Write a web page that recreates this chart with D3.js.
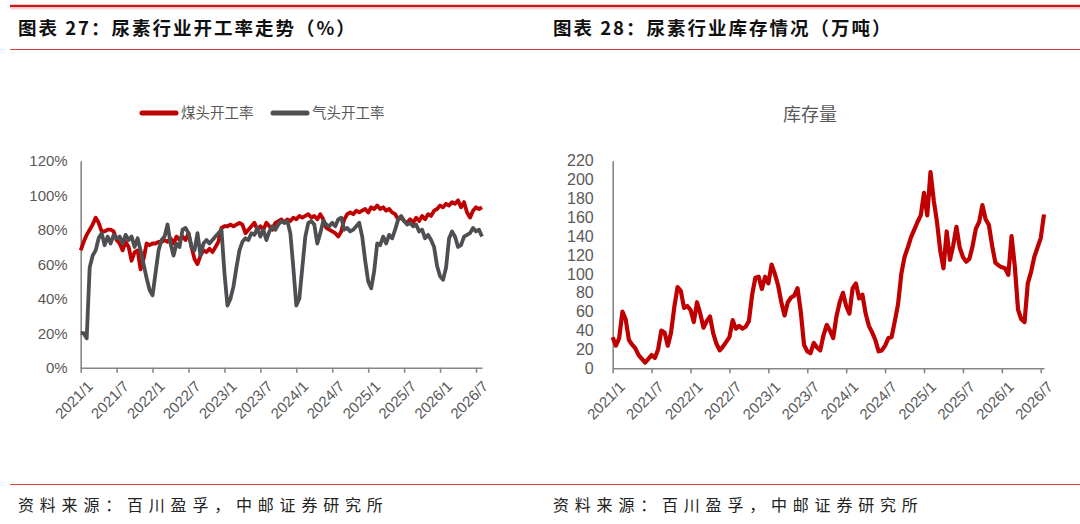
<!DOCTYPE html>
<html>
<head>
<meta charset="utf-8">
<script src="https://cdn.jsdelivr.net/npm/d3@7"></script>
<style>
  body { margin: 0; background: #fff; }
  .title { font-family: "Noto Sans CJK SC", sans-serif; font-weight: 700; font-size: 18.5px; fill: #111; letter-spacing: 2px; }
  .source { font-family: "Noto Sans CJK SC", sans-serif; font-size: 16px; fill: #222; letter-spacing: 5.8px; }
  .legend { font-family: "Noto Sans CJK SC", sans-serif; font-size: 14.5px; fill: #595959; }
  .tick text { font-family: "Liberation Sans Narrow", "Liberation Sans", sans-serif; fill: #595959; }
  .axis path, .axis line { stroke: #868686; stroke-width: 1.6px; }
</style>
</head>
<body>
<svg id="chart" width="1080" height="524"></svg>
<script>
// half-month steps from 2021/1 (index 0) on
var xTickLabels = ["2021/1","2021/7","2022/1","2022/7","2023/1","2023/7","2024/1","2024/7","2025/1","2025/7","2026/1","2026/7"];
var xTickIdx = [0,12,24,36,48,60,72,84,96,108,120,132];

// 煤头开工率 (%)
var coalRate = [68,73,77,80,83,87,84,79,79,80,80,79,74,72,68,73,70,62,67,68,
  57,63,72,71,72,72,73,73,74,73,75,72,76,74,76,74,78,70,63,60,
  65,68,67,69,67,70,73,81,82,82,83,82,83,84,83,78,80,82,84,80,
  82,80,84,82,80,84,85,86,84,86,85,87,86,88,87,88,89,87,88,86,
  89,86,81,80,79,78,76,79,86,89,90,89,91,90,91,92,90,93,92,94,
  92,93,91,92,90,89,86,87,85,84,86,84,87,85,88,86,89,88,91,92,
  94,93,95,94,96,95,97,93,96,90,87,91,93,92,93];

// 气头开工率 (%)
var gasRate = [20,20,17,58,65,68,75,78,71,76,72,77,75,76,72,77,74,76,70,75,
  68,60,52,45,42,55,68,74,76,83,72,65,72,70,80,81,78,70,68,78,
  65,72,74,72,74,76,78,80,55,36,40,47,58,68,73,75,74,78,77,81,
  76,80,74,79,82,80,83,85,84,85,78,58,36,40,58,76,84,85,83,72,
  78,85,83,82,84,82,86,87,80,81,79,80,82,84,76,62,50,46,56,72,
  71,76,72,77,75,80,86,88,85,83,84,82,83,79,80,75,77,74,70,59,
  53,51,58,75,79,76,70,71,76,77,78,81,79,80,76];

// 库存量 (万吨)
var inventory = [33,24,32,60,52,30,25,21,14,10,6,10,14,11,20,40,38,24,38,65,
  86,82,64,66,62,49,70,58,43,50,55,37,26,19,23,28,33,51,42,45,
  42,44,50,78,96,97,84,97,90,110,100,88,70,56,70,75,77,85,60,25,
  18,16,27,22,19,35,46,40,32,55,70,80,66,58,85,90,74,78,58,45,
  38,30,18,19,24,32,33,50,68,100,118,128,139,147,155,162,186,162,208,178,
  155,125,106,145,115,130,150,128,118,113,116,130,148,155,173,158,152,130,112,109,
  107,106,99,140,108,62,52,49,90,102,118,128,138,163];

var rateTicks = [0,0.2,0.4,0.6,0.8,1.0,1.2];
var stockTicks = [0,20,40,60,80,100,120,140,160,180,200,220];

var svg = d3.select("#chart");

// header / footer rules
function frame(x0, x1, tx, title, source) {
  svg.append("line").attr("x1", x0).attr("x2", x1).attr("y1", 6).attr("y2", 6)
    .attr("stroke", "#c8161d").attr("stroke-width", 2.6);
  svg.append("line").attr("x1", x0).attr("x2", x1).attr("y1", 8.8).attr("y2", 8.8)
    .attr("stroke", "#e6b3b3").attr("stroke-width", 0.8);
  svg.append("line").attr("x1", x0).attr("x2", x1).attr("y1", 49.5).attr("y2", 49.5)
    .attr("stroke", "#d93b3b").attr("stroke-width", 1);
  svg.append("line").attr("x1", x0).attr("x2", x1).attr("y1", 484.5).attr("y2", 484.5)
    .attr("stroke", "#d93b3b").attr("stroke-width", 1);
  svg.append("text").attr("class", "title").attr("x", tx).attr("y", 35).text(title);
  svg.append("text").attr("class", "source").attr("x", tx).attr("y", 511).text(source);
}
frame(10, 540, 18, "图表 27：尿素行业开工率走势（%）", "资料来源：百川盈孚，中邮证券研究所");
frame(540, 1080, 553, "图表 28：尿素行业库存情况（万吨）", "资料来源：百川盈孚，中邮证券研究所");

function xAxis(g, x, y0, fontSize) {
  var ax = g.append("g").attr("class", "axis")
    .attr("transform", "translate(0," + y0 + ")")
    .call(d3.axisBottom(x).tickValues(xTickIdx).tickSize(5).tickSizeOuter(0)
      .tickFormat(function(d, i) { return xTickLabels[i]; }));
  ax.selectAll(".tick text")
    .attr("font-size", fontSize)
    .attr("text-anchor", "end")
    .attr("dy", 0)
    .attr("transform", "translate(7,14) rotate(-45)");
}

// ---- left: 开工率 ----
var xL = d3.scaleLinear().domain([0, 134]).range([80.7, 482]);
var yL = d3.scaleLinear().domain([0, 1.2]).range([367.7, 160.7]);
var gL = svg.append("g");

gL.append("g").attr("class", "axis")
  .attr("transform", "translate(80.7,0)")
  .call(d3.axisLeft(yL).tickValues(rateTicks).tickSize(0).tickPadding(13)
    .tickFormat(d3.format(".0%")))
  .selectAll(".tick text").attr("font-size", 15);
xAxis(gL, xL, 367.7, 15);

var lineL = d3.line().x(function(d, i) { return xL(i); }).y(function(d) { return yL(d / 100); });
gL.append("path").datum(coalRate).attr("d", lineL)
  .attr("fill", "none").attr("stroke", "#c00000").attr("stroke-width", 3.8).attr("stroke-linejoin", "round");
gL.append("path").datum(gasRate).attr("d", lineL)
  .attr("fill", "none").attr("stroke", "#4d4f52").attr("stroke-width", 3.8).attr("stroke-linejoin", "round");

// legend
var legendItems = [["煤头开工率", "#c00000", 142], ["气头开工率", "#4d4f52", 273]];
legendItems.forEach(function(d) {
  gL.append("line").attr("x1", d[2]).attr("x2", d[2] + 34).attr("y1", 113).attr("y2", 113)
    .attr("stroke", d[1]).attr("stroke-width", 5).attr("stroke-linecap", "round");
  gL.append("text").attr("class", "legend").attr("x", d[2] + 39).attr("y", 118).text(d[0]);
});

// ---- right: 库存量 ----
var xR = d3.scaleLinear().domain([0, 133]).range([612.7, 1044]);
var yR = d3.scaleLinear().domain([0, 220]).range([368.3, 160.7]);
var gR = svg.append("g");

gR.append("g").attr("class", "axis")
  .attr("transform", "translate(612.7,0)")
  .call(d3.axisLeft(yR).tickValues(stockTicks).tickSize(0).tickPadding(19))
  .selectAll(".tick text").attr("font-size", 16);
xAxis(gR, xR, 368.3, 15);

gR.append("path").datum(inventory)
  .attr("d", d3.line().x(function(d, i) { return xR(i); }).y(function(d) { return yR(d); }))
  .attr("fill", "none").attr("stroke", "#c00000").attr("stroke-width", 4.2).attr("stroke-linejoin", "round");

gR.append("text").attr("class", "legend").attr("x", 810).attr("y", 121)
  .attr("text-anchor", "middle").style("font-size", "18px").text("库存量");
</script>
</body>
</html>
